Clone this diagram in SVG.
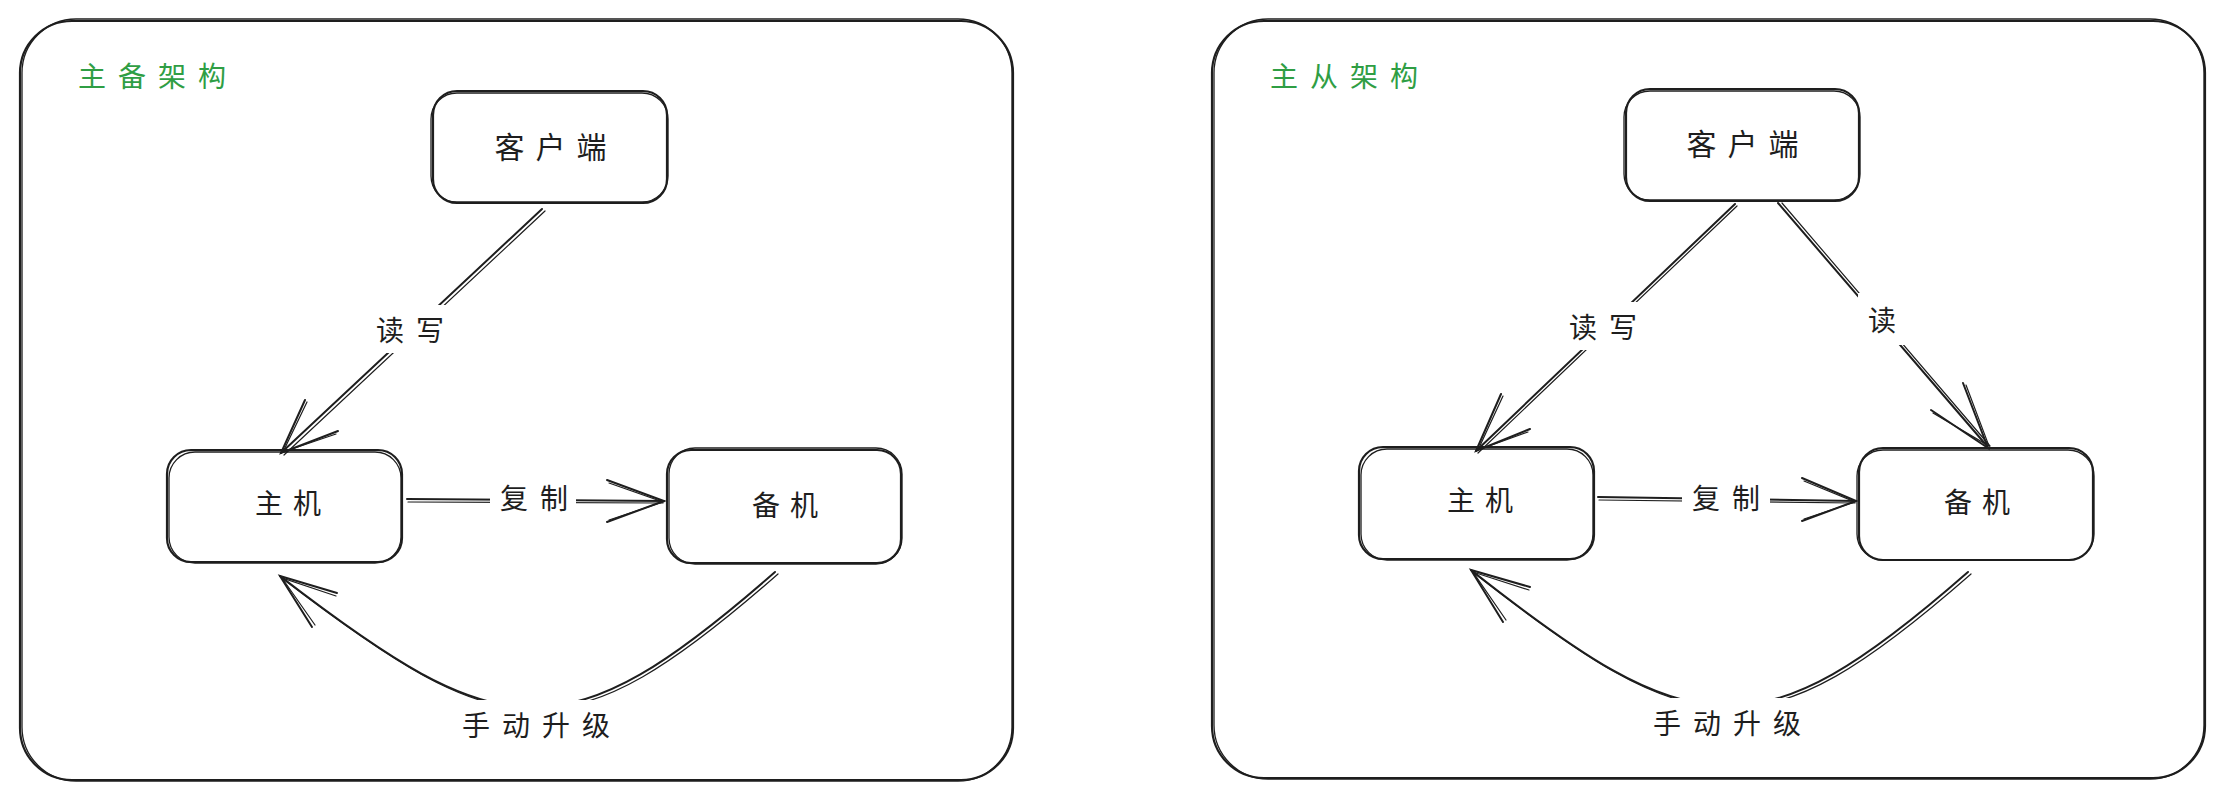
<svg xmlns="http://www.w3.org/2000/svg" width="2225" height="800" viewBox="0 0 2225 800">
  <style>
    .bg { fill: #ffffff; }
    .frame { fill: none; stroke: #1e1e1e; stroke-width: 2.2; }
    .frame2 { fill: none; stroke: #1e1e1e; stroke-width: 1.3; }
    .box { fill: none; stroke: #1e1e1e; stroke-width: 2.2; }
    .box2 { fill: none; stroke: #1e1e1e; stroke-width: 1.3; }
    .ln { fill: none; stroke: #1e1e1e; stroke-width: 2; stroke-linecap: round; }
    .ln2 { fill: none; stroke: #1e1e1e; stroke-width: 1.2; stroke-linecap: round; }
    .lbl { font-family: "Noto Sans CJK SC", "Noto Sans", sans-serif; font-size: 28px; fill: #1e1e1e; text-anchor: middle; dominant-baseline: central; }
    .big { font-size: 30px; letter-spacing: 11px; }
    .sp10 { letter-spacing: 10px; }
    .sp12 { letter-spacing: 12px; }
    .title { font-family: "Noto Sans CJK SC", "Noto Sans", sans-serif; font-size: 28px; fill: #2f9e44; text-anchor: middle; dominant-baseline: central; letter-spacing: 12px; }
  </style>
  <defs>
    <mask id="labelGaps" maskUnits="userSpaceOnUse" x="0" y="0" width="2225" height="800">
      <rect x="0" y="0" width="2225" height="800" fill="#fff"/>
      <rect x="365" y="305" width="90" height="48" fill="#000"/>
      <rect x="490" y="473" width="86" height="48" fill="#000"/>
      <rect x="457" y="700" width="155" height="52" fill="#000"/>
      <rect x="1558" y="302" width="90" height="48" fill="#000"/>
      <rect x="1858" y="293" width="48" height="52" fill="#000"/>
      <rect x="1682" y="473" width="88" height="48" fill="#000"/>
      <rect x="1649" y="698" width="155" height="52" fill="#000"/>
    </mask>
  </defs>
  <rect class="bg" x="0" y="0" width="2225" height="800"/>

  <!-- Left frame: 主备架构 -->
  <g id="frame-left">
    <rect class="frame" x="20" y="21" width="993" height="759" rx="52"/>
    <rect class="frame2" x="22" y="19" width="990" height="762" rx="54"/>
    <text class="title" x="158" y="75">主备架构</text>
  </g>

  <!-- Right frame: 主从架构 -->
  <g id="frame-right">
    <rect class="frame" x="1212" y="21" width="993" height="757" rx="52"/>
    <rect class="frame2" x="1214" y="19" width="990" height="760" rx="54"/>
    <text class="title" x="1350" y="75">主从架构</text>
  </g>

  <!-- Left nodes -->
  <g id="node-client-left">
    <rect class="box" x="433" y="91" width="234" height="112" rx="24"/>
    <rect class="box2" x="431" y="93" width="237" height="109" rx="26"/>
    <text class="lbl big" x="556" y="145">客户端</text>
  </g>
  <g id="node-master-left">
    <rect class="box" x="167" y="450" width="235" height="112" rx="24"/>
    <rect class="box2" x="169" y="452" width="232" height="111" rx="26"/>
    <text class="lbl sp10" x="293" y="502">主机</text>
  </g>
  <g id="node-backup-left">
    <rect class="box" x="667" y="450" width="234" height="113" rx="24"/>
    <rect class="box2" x="669" y="448" width="233" height="116" rx="26"/>
    <text class="lbl sp10" x="790" y="504">备机</text>
  </g>

  <!-- Right nodes -->
  <g id="node-client-right">
    <rect class="box" x="1626" y="89" width="233" height="112" rx="24"/>
    <rect class="box2" x="1624" y="91" width="236" height="109" rx="26"/>
    <text class="lbl big" x="1748" y="142">客户端</text>
  </g>
  <g id="node-master-right">
    <rect class="box" x="1359" y="447" width="235" height="112" rx="24"/>
    <rect class="box2" x="1361" y="449" width="232" height="111" rx="26"/>
    <text class="lbl sp10" x="1485" y="499">主机</text>
  </g>
  <g id="node-slave-right">
    <rect class="box" x="1859" y="448" width="234" height="112" rx="24"/>
    <rect class="box2" x="1857" y="450" width="237" height="110" rx="26"/>
    <text class="lbl sp10" x="1982" y="501">备机</text>
  </g>

  <!-- Connectors -->
  <g id="connectors">
    <g mask="url(#labelGaps)">
      <!-- Left: 客户端 -> 主机 读写 -->
      <path class="ln" d="M542,209 L281,453"/>
      <path class="ln2" d="M545,211 L284,455"/>
      <!-- Left: 主机 -> 备机 复制 -->
      <path class="ln" d="M407,499 L664,501"/>
      <path class="ln2" d="M408,502 L663,503"/>
      <!-- Left: 备机 -> 主机 手动升级 -->
      <path class="ln" d="M775,572 C564,757 502,747 280,576"/>
      <path class="ln2" d="M778,574 C567,759 505,749 283,579"/>
      <!-- Right: 客户端 -> 主机 读写 -->
      <path class="ln" d="M1735,204 L1476,451"/>
      <path class="ln2" d="M1737,206 L1478,453"/>
      <!-- Right: 客户端 -> 备机 读 -->
      <path class="ln" d="M1778,203 L1987,446"/>
      <path class="ln2" d="M1782,203 L1990,446"/>
      <!-- Right: 主机 -> 备机 复制 -->
      <path class="ln" d="M1598,497 L1856,501"/>
      <path class="ln2" d="M1599,500 L1855,503"/>
      <!-- Right: 备机 -> 主机 手动升级 -->
      <path class="ln" d="M1968,572 C1757,757 1693,745 1471,570"/>
      <path class="ln2" d="M1971,574 C1760,759 1696,747 1474,573"/>
    </g>
    <!-- arrowheads -->
    <path class="ln" d="M305,400 L281,453 L338,431"/>
    <path class="ln2" d="M307,402 L283,452 L336,434"/>
    <path class="ln" d="M607,480 L664,501 L607,522"/>
    <path class="ln2" d="M609,483 L663,502 L609,520"/>
    <path class="ln" d="M312,627 L280,576 L337,593"/>
    <path class="ln2" d="M315,625 L282,578 L336,596"/>
    <path class="ln" d="M1501,394 L1476,451 L1530,429"/>
    <path class="ln2" d="M1503,396 L1478,450 L1528,432"/>
    <path class="ln" d="M1963,383 L1988,448 L1931,410"/>
    <path class="ln2" d="M1966,385 L1989,446 L1933,413"/>
    <path class="ln" d="M1802,478 L1856,501 L1802,521"/>
    <path class="ln2" d="M1804,481 L1855,502 L1804,519"/>
    <path class="ln" d="M1503,622 L1471,570 L1530,587"/>
    <path class="ln2" d="M1506,620 L1473,572 L1529,590"/>
    <!-- labels -->
    <text class="lbl sp12" x="416" y="329">读写</text>
    <text class="lbl sp12" x="540" y="497">复制</text>
    <text class="lbl sp12" x="542" y="724">手动升级</text>
    <text class="lbl sp12" x="1609" y="326">读写</text>
    <text class="lbl" x="1882" y="319">读</text>
    <text class="lbl sp12" x="1732" y="497">复制</text>
    <text class="lbl sp12" x="1733" y="722">手动升级</text>
  </g>
</svg>
